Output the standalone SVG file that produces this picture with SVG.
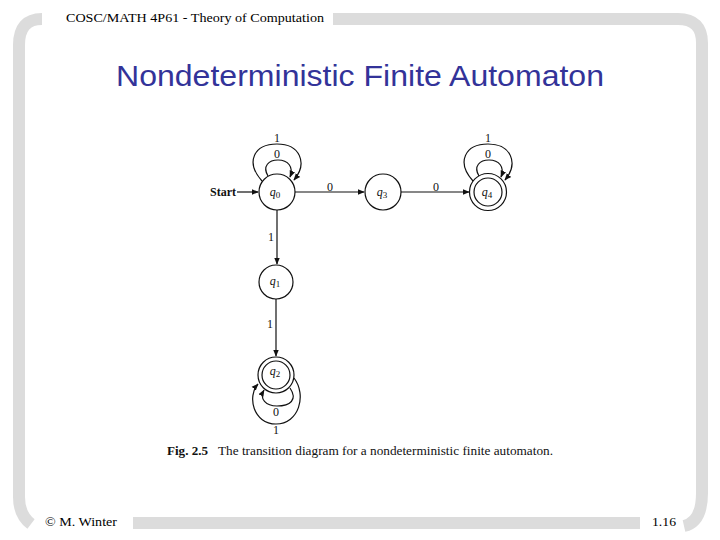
<svg xmlns="http://www.w3.org/2000/svg" width="720" height="540" viewBox="0 0 720 540">
<defs>
<style>
.frame{fill:none;stroke:#dcdcdc;stroke-width:12}
.edge{fill:none;stroke:#111;stroke-width:1.2}
.node{fill:#fff;stroke:#111;stroke-width:1.2}
.lbl{font-family:"Liberation Serif",serif;font-size:12px;fill:#111;text-anchor:middle}
.st{font-family:"Liberation Serif",serif;font-size:12px;font-style:italic;fill:#111;text-anchor:middle}
.hdr{font-family:"Liberation Serif",serif;font-size:13px;fill:#000}
.cap{font-family:"Liberation Serif",serif;font-size:11.5px;fill:#111}
</style>
<marker id="ah" viewBox="0 0 10 10" refX="9" refY="5" markerWidth="7" markerHeight="7" orient="auto" markerUnits="userSpaceOnUse">
<path d="M0,1 L10,5 L0,9 z" fill="#111"/>
</marker>
</defs>
<rect width="720" height="540" fill="#fff"/>
<g id="frame">
<path class="frame" d="M42 19 Q19 19 19 45 L19 497 Q19 515 31 524"/>
<path class="frame" d="M333 19 L678 19 Q702 19 702 43 L702 493 Q702 522 684 526"/>
<rect x="133" y="517" width="507" height="12" fill="#dcdcdc"/>
</g>
<text class="hdr" x="66" y="22" textLength="258" lengthAdjust="spacingAndGlyphs">COSC/MATH 4P61 - Theory of Computation</text>
<text x="360" y="86" font-family="'Liberation Sans',Arial,sans-serif" font-size="29" fill="#333399" text-anchor="middle" textLength="488" lengthAdjust="spacingAndGlyphs">Nondeterministic Finite Automaton</text>
<text class="hdr" x="45" y="526" textLength="72" lengthAdjust="spacingAndGlyphs">© M. Winter</text>
<text class="hdr" x="652" y="526" textLength="24" lengthAdjust="spacingAndGlyphs">1.16</text>

<g id="connectors">
<path class="edge" d="M237 192 L258 192" marker-end="url(#ah)"/>
<path class="edge" d="M295 192 L364 192" marker-end="url(#ah)"/>
<path class="edge" d="M401 192 L469 192" marker-end="url(#ah)"/>
<path class="edge" d="M277 210 L277 264" marker-end="url(#ah)"/>
<path class="edge" d="M276 299 L276 356" marker-end="url(#ah)"/>
<path class="edge" d="M262 181 C245 162 254 144 277 144 C300 144 308 163 294 180" marker-end="url(#ah)"/>
<path class="edge" d="M268 176 C262 166 269 160 278 160 C288 160 294 167 290 177" marker-end="url(#ah)"/>
<path class="edge" d="M473 181 C456 162 465 144 488 144 C511 144 519 163 505 180" marker-end="url(#ah)"/>
<path class="edge" d="M479 176 C473 166 480 160 489 160 C499 160 505 167 501 177" marker-end="url(#ah)"/>
<path class="edge" d="M290 388 C298 400 290 406 277 406 C266 406 259 399 264 390" marker-end="url(#ah)"/>
<path class="edge" d="M294 378 C307 395 299 424 276 424 C253 424 247 396 258 384" marker-end="url(#ah)"/>
<text class="lbl" x="223" y="196" font-weight="bold" font-size="9.5">Start</text>
<text class="lbl" x="330" y="191">0</text>
<text class="lbl" x="436" y="191">0</text>
<text class="lbl" x="271" y="241">1</text>
<text class="lbl" x="270" y="328">1</text>
<text class="lbl" x="277" y="142">1</text>
<text class="lbl" x="277" y="158">0</text>
<text class="lbl" x="488" y="142">1</text>
<text class="lbl" x="488" y="158">0</text>
<text class="lbl" x="276" y="416">0</text>
<text class="lbl" x="276" y="434">1</text>
</g>

<g id="q0"><circle class="node" cx="277" cy="192" r="18"/><text class="st" x="275" y="196">q<tspan font-size="9" dy="2" font-style="normal">0</tspan></text></g>
<g id="q3"><circle class="node" cx="383" cy="192" r="18"/><text class="st" x="382" y="196">q<tspan font-size="9" dy="2" font-style="normal">3</tspan></text></g>
<g id="q4"><circle class="node" cx="488" cy="192" r="18.5"/><circle class="node" cx="488" cy="192" r="14"/><text class="st" x="487" y="196">q<tspan font-size="9" dy="2" font-style="normal">4</tspan></text></g>
<g id="q1"><circle class="node" cx="276" cy="282" r="17"/><text class="st" x="275" y="285">q<tspan font-size="9" dy="2" font-style="normal">1</tspan></text></g>
<g id="q2"><circle class="node" cx="276" cy="375" r="18"/><circle class="node" cx="276" cy="375" r="14"/><text class="st" x="275" y="375">q<tspan font-size="9" dy="2" font-style="normal">2</tspan></text></g>

<text class="cap" x="167" y="455" font-weight="bold" textLength="41" lengthAdjust="spacingAndGlyphs">Fig. 2.5</text>
<text class="cap" x="218" y="455" textLength="335" lengthAdjust="spacingAndGlyphs">The transition diagram for a nondeterministic finite automaton.</text>
</svg>
